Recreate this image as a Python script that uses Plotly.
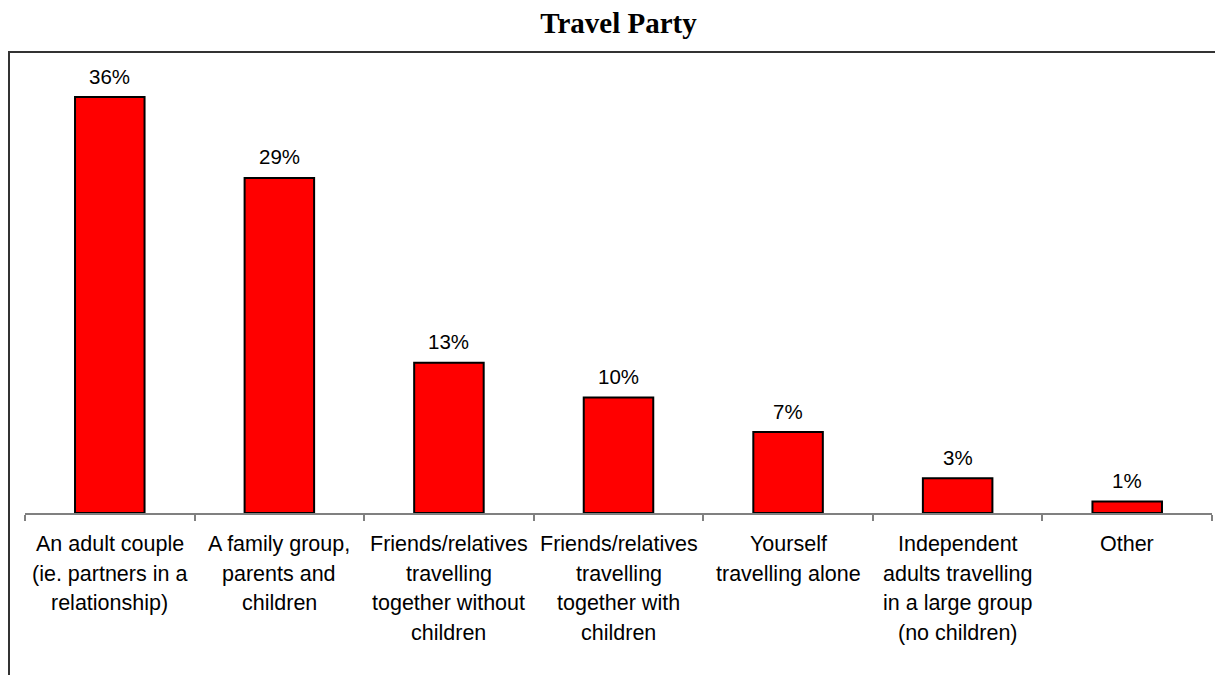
import plotly.graph_objects as go

# Travel party composition (share of respondents, %)
categories = [
    "An adult couple<br>(ie. partners in a<br>relationship)",
    "A family group,<br>parents and<br>children",
    "Friends/relatives<br>travelling<br>together without<br>children",
    "Friends/relatives<br>travelling<br>together with<br>children",
    "Yourself<br>travelling alone",
    "Independent<br>adults travelling<br>in a large group<br>(no children)",
    "Other",
]
values = [36, 29, 13, 10, 7, 3, 1]
value_labels = [f"{v}%" for v in values]

W, H = 1215, 675
M_L, M_R, M_T, M_B = 25, 3, 52, 162
SANS = "Liberation Sans, Arial, sans-serif"
SERIF = "Liberation Serif, Times New Roman, serif"

fig = go.Figure(
    go.Bar(
        x=list(range(len(categories))),
        y=values,
        marker=dict(color="#FF0000", line=dict(color="#000000", width=2)),
        hoverinfo="skip",
    )
)

annotations = []
# value labels above bars
for i, (v, lab) in enumerate(zip(values, value_labels)):
    annotations.append(dict(
        x=i, y=v, xref="x", yref="y", text=lab, showarrow=False,
        yanchor="middle", yshift=21,
        font=dict(family=SANS, size=20.5, color="#000000"),
    ))
# category labels below the axis, one line at a time
LINE_STEP = 29.7
for i, cat in enumerate(categories):
    for j, line in enumerate(cat.split("<br>")):
        annotations.append(dict(
            x=i, y=0, xref="x", yref="y", text=line, showarrow=False,
            yanchor="middle", yshift=-(31 + j * LINE_STEP),
            font=dict(family=SANS, size=21.5, color="#000000"),
        ))

plot_w = W - M_L - M_R

fig.update_layout(
    width=W, height=H,
    margin=dict(l=M_L, r=M_R, t=M_T, b=M_B),
    paper_bgcolor="#FFFFFF", plot_bgcolor="#FFFFFF",
    bargap=0.59,
    showlegend=False,
    title=dict(
        text="<b>Travel Party</b>", x=0.5, xref="paper",
        y=1 - 23 / H, yref="container", yanchor="middle", xanchor="center",
        font=dict(family=SERIF, size=29, color="#000000"),
    ),
    xaxis=dict(
        type="category", range=[-0.5, len(categories) - 0.5],
        showline=True, linecolor="#808080", linewidth=2,
        ticks="outside", tickson="boundaries", ticklen=6,
        tickcolor="#808080", tickwidth=2,
        showticklabels=False, showgrid=False, zeroline=False, fixedrange=True,
    ),
    yaxis=dict(
        range=[0, 39.9], visible=False, showgrid=False, zeroline=False,
        fixedrange=True,
    ),
    annotations=annotations,
    shapes=[dict(
        type="rect", xref="paper", yref="paper",
        x0=(9 - M_L) / plot_w, x1=1.2,
        y0=-0.6, y1=1.0,
        line=dict(color="#333333", width=2), fillcolor="rgba(0,0,0,0)",
        layer="below",
    )],
)

fig.write_html("out.html")
